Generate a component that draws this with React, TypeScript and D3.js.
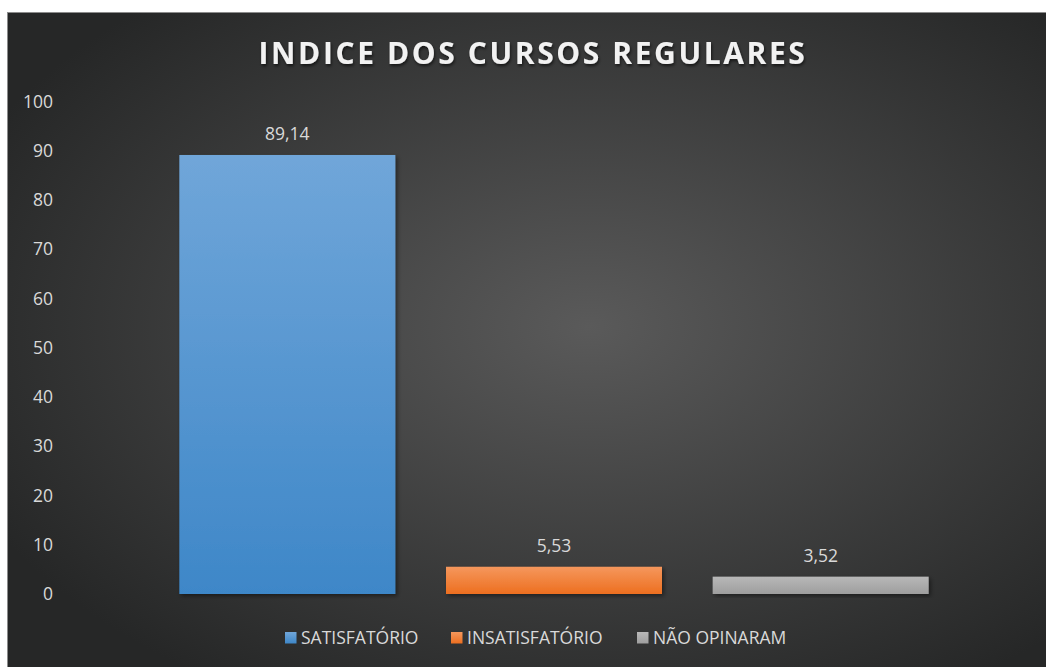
import React from "react";
import * as d3 from "d3";

const categories = ["SATISFATÓRIO", "INSATISFATÓRIO", "NÃO OPINARAM"];
const values = [89.14, 5.53, 3.52];
const yTicks = [0, 10, 20, 30, 40, 50, 60, 70, 80, 90, 100];
const title = "INDICE DOS CURSOS REGULARES";

const colors = [
  { top: "#70a6d9", bottom: "#3e87c8" },
  { top: "#f5975c", bottom: "#ed6f20" },
  { top: "#b8b8b8", bottom: "#9e9e9e" },
];

const W = 1046;
const H = 667;
const font = "'Open Sans', 'Noto Sans', sans-serif";

export default function App() {
  const x = d3.scaleBand().domain(categories).range([154, 954]).paddingInner(0.19).paddingOuter(0.095);
  const y = d3.scaleLinear().domain([0, 100]).range([594, 101.5]);
  const fmt = (v: number) => v.toFixed(2).replace(".", ",");

  // legend entries laid out left to right
  const legendItems = [
    { x: 285, label: categories[0] },
    { x: 451, label: categories[1] },
    { x: 637, label: categories[2] },
  ];

  return (
    <svg
      width={W}
      height={H}
      style={{ position: "absolute", left: 0, top: 0, display: "block" }}
      fontFamily={font}
    >
      <defs>
        <radialGradient id="bg" cx="0.56" cy="0.48" r="0.65">
          <stop offset="0" stopColor="#5a5a5a" />
          <stop offset="1" stopColor="#262727" />
        </radialGradient>
        {colors.map((c, i) => (
          <linearGradient key={i} id={`bar${i}`} x1="0" y1="0" x2="0" y2="1">
            <stop offset="0" stopColor={c.top} />
            <stop offset="1" stopColor={c.bottom} />
          </linearGradient>
        ))}
        <filter id="shadow" x="-10%" y="-10%" width="130%" height="130%">
          <feDropShadow dx="2" dy="2" stdDeviation="2" floodColor="#000" floodOpacity="0.45" />
        </filter>
        <filter id="tshadow" x="-5%" y="-20%" width="110%" height="160%">
          <feDropShadow dx="1" dy="2" stdDeviation="1.5" floodColor="#000" floodOpacity="0.6" />
        </filter>
      </defs>

      <rect x={7.5} y={12.5} width={W - 7} height={H - 12} fill="url(#bg)" stroke="#8c8c8c" strokeWidth={1} />

      <text
        x={533}
        y={64}
        textAnchor="middle"
        fill="#f2f2f2"
        fontSize={30}
        fontWeight="bold"
        letterSpacing={2.6}
        filter="url(#tshadow)"
      >
        {title}
      </text>

      {yTicks.map((t) => (
        <text key={t} x={53} y={y(t)} dy="0.35em" textAnchor="end" fill="#d9d9d9" fontSize={17.5}>
          {t}
        </text>
      ))}

      {categories.map((c, i) => (
        <g key={c}>
          <rect
            x={x(c)}
            y={y(values[i])}
            width={x.bandwidth()}
            height={y(0) - y(values[i])}
            fill={`url(#bar${i})`}
            filter="url(#shadow)"
          />
          <text
            x={(x(c) ?? 0) + x.bandwidth() / 2}
            y={y(values[i]) - 14.5}
            textAnchor="middle"
            fill="#d9d9d9"
            fontSize={17.5}
          >
            {fmt(values[i])}
          </text>
        </g>
      ))}

      {legendItems.map((l, i) => (
        <g key={l.label}>
          <rect x={l.x} y={632} width={11.5} height={11.5} fill={`url(#bar${i})`} />
          <text x={l.x + 16} y={638} dy="0.35em" fill="#d9d9d9" fontSize={17.5}>
            {l.label}
          </text>
        </g>
      ))}
    </svg>
  );
}
